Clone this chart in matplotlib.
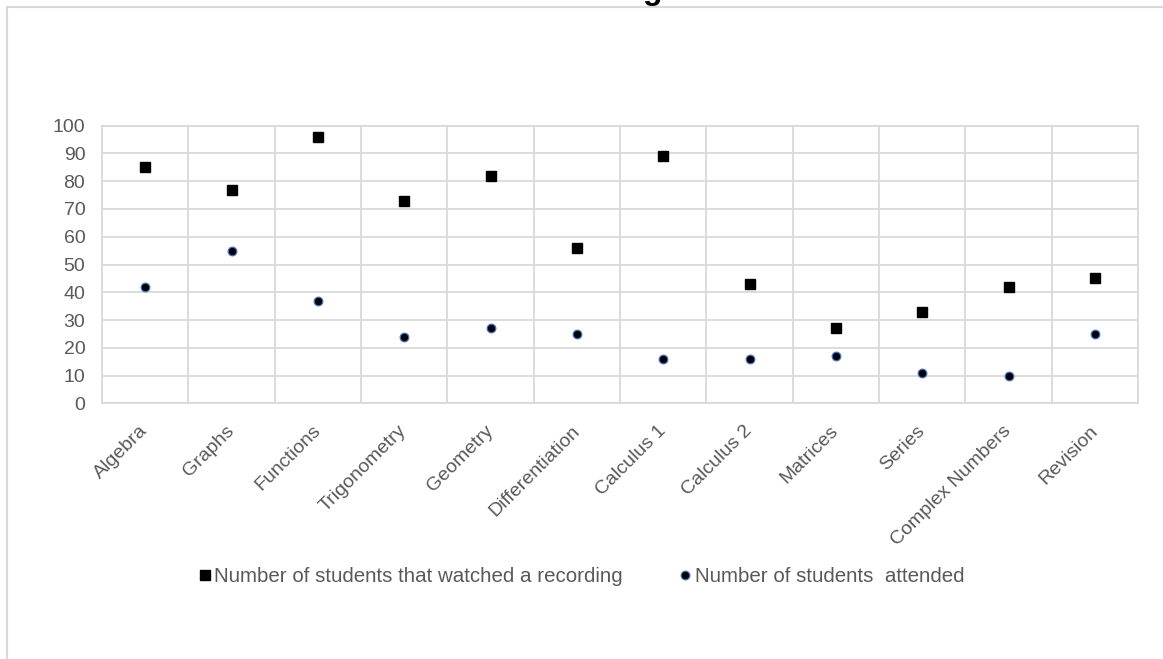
import matplotlib
matplotlib.use("Agg")
import matplotlib.pyplot as plt
from matplotlib.patches import Rectangle

# Topics and student counts per session
topics = ["Algebra", "Graphs", "Functions", "Trigonometry", "Geometry", "Differentiation",
          "Calculus 1", "Calculus 2", "Matrices", "Series", "Complex Numbers", "Revision"]
watched = [85, 77, 96, 73, 82, 56, 89, 43, 27, 33, 42, 45]
attended = [42, 55, 37, 24, 27, 25, 16, 16, 17, 11, 10, 25]
y_ticks = list(range(0, 101, 10))

GRID = "#d9d9d9"
TEXT = "#595959"

plt.rcParams["font.family"] = ["Liberation Sans", "DejaVu Sans"]

fig = plt.figure(figsize=(11.63, 6.59), dpi=100)
ax = fig.add_axes([102 / 1163, 1 - 403.3 / 659, (1138 - 102) / 1163, (403.3 - 125.7) / 659])

x = [i + 0.5 for i in range(len(topics))]
ax.plot(x, watched, linestyle="none", marker="s", markersize=7.2, color="black",
        label="Number of students that watched a recording", zorder=3)
ax.plot(x, attended, linestyle="none", marker="o", markersize=6.2, markerfacecolor="black",
        markeredgecolor="#4472c4", markeredgewidth=0.9,
        label="Number of students  attended", zorder=3)

ax.set_xlim(0, len(topics))
ax.set_ylim(0, 100)
ax.set_yticks(y_ticks)
ax.set_xticks(x)
ax.set_xticklabels(topics, rotation=45, ha="right", va="center", rotation_mode="anchor")
ax.tick_params(axis="both", length=0, labelsize=14, labelcolor=TEXT)
ax.tick_params(axis="y", pad=12)
ax.tick_params(axis="x", pad=18)

# category separators and value gridlines
ax.set_xticks(range(1, len(topics)), minor=True)
ax.tick_params(axis="x", which="minor", length=0)
ax.grid(axis="x", which="minor", color=GRID, linewidth=1.3)
ax.grid(axis="y", which="major", color=GRID, linewidth=1.3)
ax.set_axisbelow(True)
for s in ax.spines.values():
    s.set_color(GRID)
    s.set_linewidth(1.3)

leg = fig.legend(loc="center", bbox_to_anchor=(582 / 1163, 1 - 577 / 659), ncol=2,
                 frameon=False, fontsize=14.8, handlelength=0.5, handletextpad=0.2,
                 columnspacing=2.8, labelcolor=TEXT)

# chart area border
fig.patches.append(Rectangle((7 / 1163, -0.1), 1.2, 1 - 7 / 659 + 0.1, transform=fig.transFigure,
                             fill=False, edgecolor=GRID, linewidth=1.5))

# title sits mostly above the visible area
fig.text(652 / 1163, 1 + 1 / 659, "g", ha="center", va="baseline", fontsize=23,
         fontweight="bold", color="black")

fig.savefig("out.png", dpi=100)
